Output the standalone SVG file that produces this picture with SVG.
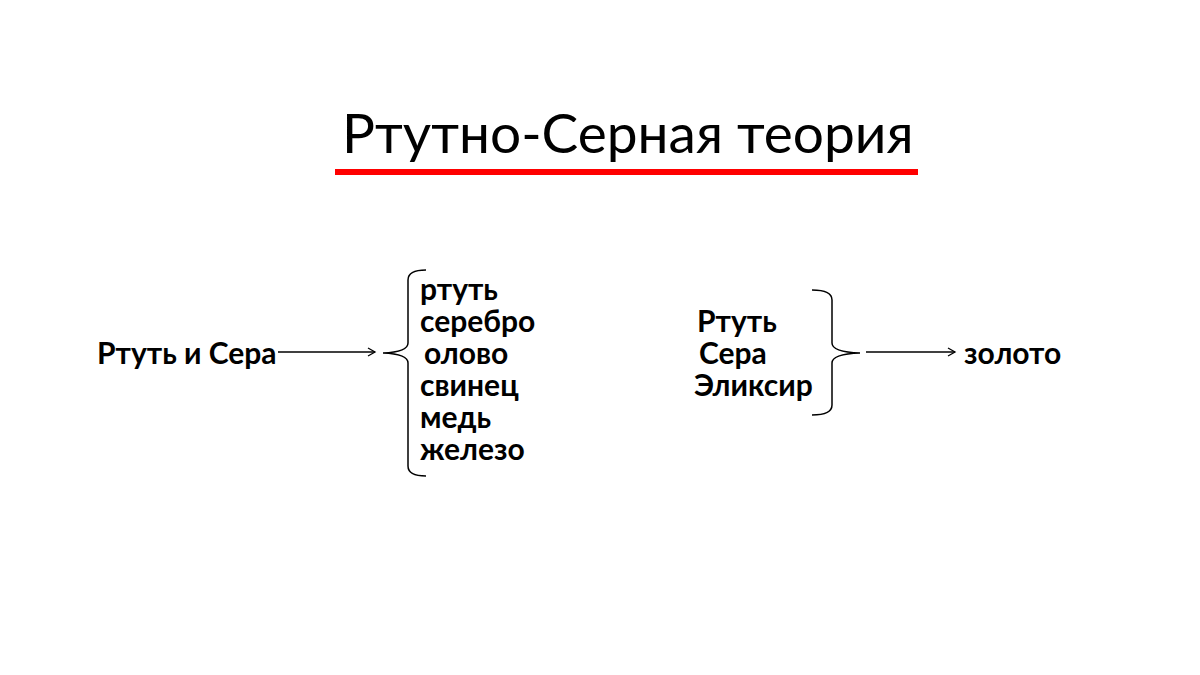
<svg xmlns="http://www.w3.org/2000/svg" width="1200" height="675" viewBox="0 0 1200 675">
<style>
.t{font-family:Lato,"Liberation Sans",sans-serif;font-weight:bold;font-size:30px;fill:#000}
.ttl{font-family:Lato,"Liberation Sans",sans-serif;font-size:55px;fill:#000}
.ln{stroke:#000;stroke-width:1.5;fill:none}
</style>
<defs>
<marker id="ah" markerWidth="10" markerHeight="10" refX="8" refY="5" orient="auto" markerUnits="userSpaceOnUse">
<path d="M1,1 L8,5 L1,9" fill="none" stroke="#000" stroke-width="1.3"/>
</marker>
</defs>
<rect width="1200" height="675" fill="#fff"/>
<g id="title">
<text class="ttl" x="342" y="153">Ртутно-Серная теория</text>
<rect x="335" y="169" width="583" height="6" fill="#ff0000"/>
</g>
<g id="source"><text class="t" x="97" y="364">Ртуть и Сера</text></g>
<g id="metals">
<path class="ln" d="M426,270 Q408,270 408,280 L408,343 Q408,352 383,353 Q408,354 408,363 L408,466 Q408,476 426,476"/>
<text class="t" x="420" y="300">ртуть</text>
<text class="t" x="420" y="332">серебро</text>
<text class="t" x="424" y="364">олово</text>
<text class="t" x="420" y="396">свинец</text>
<text class="t" x="420" y="428">медь</text>
<text class="t" x="420" y="460">железо</text>
</g>
<g id="ingredients">
<path class="ln" d="M812,290 Q832,290 832,300 L832,343 Q832,352 860,353 Q832,354 832,363 L832,405 Q832,415 812,415"/>
<text class="t" x="697" y="332">Ртуть</text>
<text class="t" x="699" y="364">Сера</text>
<text class="t" x="694" y="396">Эликсир</text>
</g>
<g id="result"><text class="t" x="964" y="364">золото</text></g>
<g id="connectors">
<line class="ln" x1="278" y1="352" x2="375" y2="352" marker-end="url(#ah)"/>
<line class="ln" x1="866" y1="352" x2="955" y2="352" marker-end="url(#ah)"/>
</g>
</svg>
